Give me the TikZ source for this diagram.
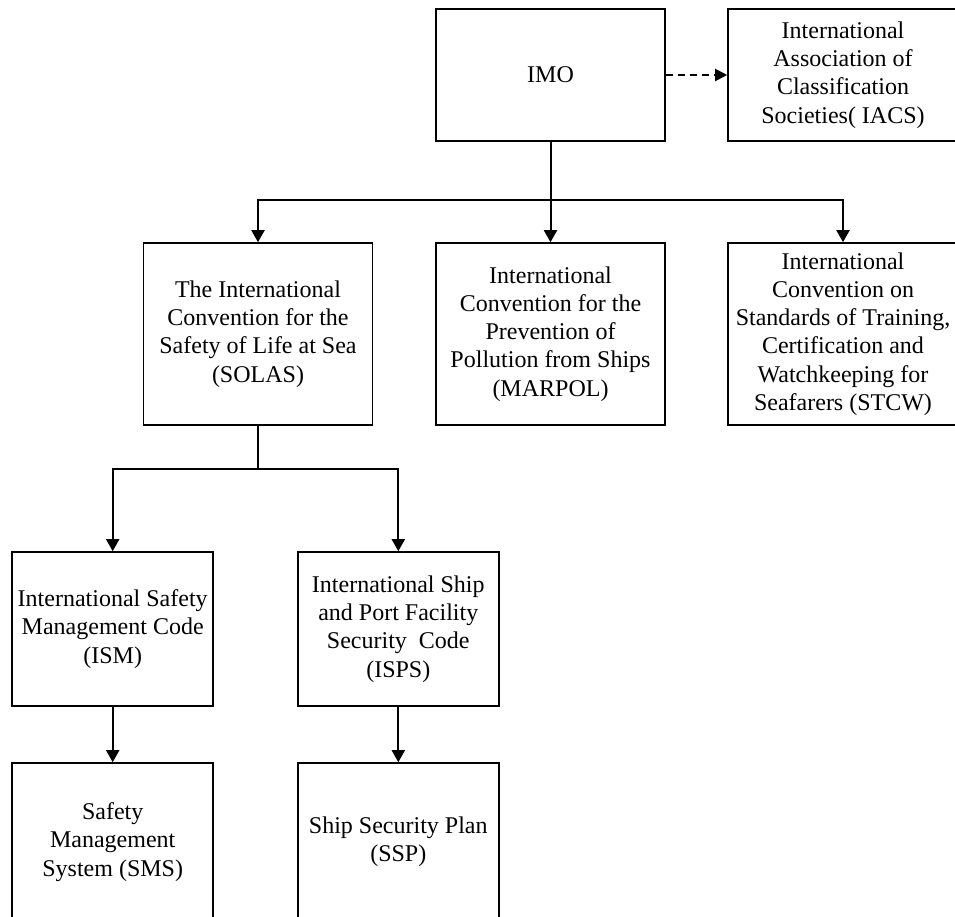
\documentclass[tikz,border=0pt]{standalone}
\usepackage{fontspec}
\setmainfont{Liberation Serif}
\usetikzlibrary{arrows.meta}
\begin{document}
\begin{tikzpicture}[x=1pt,y=-1pt,
  box/.style={draw, line width=1.6pt, rectangle, inner sep=0pt, align=center, font=\fontsize{24}{28.2}\selectfont},
  conn/.style={line width=2pt},
  arr/.style={line width=2pt, -{Triangle[width=13pt,length=12pt]}},
  darr/.style={line width=2pt, dash pattern=on 7pt off 5pt, -{Triangle[width=12pt,length=12pt]}}]
\useasboundingbox (0,0) rectangle (955,917);
\clip (0,0) rectangle (955,917);
% top row
\node[box, minimum width=229pt, minimum height=132pt] (imo) at (550.5,75) {IMO};
\node[box, minimum width=230pt, minimum height=132pt] (iacs) at (843,75) {International\\Association of\\Classification\\Societies( IACS)};
% second row
\node[box, minimum width=229pt, minimum height=182pt] (solas) at (258,334) {The International\\Convention for the\\Safety of Life at Sea\\(SOLAS)};
\node[box, minimum width=229pt, minimum height=182pt] (marpol) at (550.5,334) {International\\Convention for the\\Prevention of\\Pollution from Ships\\(MARPOL)};
\node[box, minimum width=230pt, minimum height=182pt] (stcw) at (843,334) {International\\Convention on\\Standards of Training,\\Certification and\\Watchkeeping for\\Seafarers (STCW)};
% third row
\node[box, minimum width=201pt, minimum height=154pt] (ism) at (112.7,629) {International Safety\\Management Code\\(ISM)};
\node[box, minimum width=201pt, minimum height=154pt] (isps) at (398.3,629) {International Ship\\and Port Facility\\Security\ \ Code\\(ISPS)};
% fourth row
\node[box, minimum width=201pt, minimum height=158pt] (sms) at (112.7,842) {Safety\\Management\\System (SMS)};
\node[box, minimum width=201pt, minimum height=158pt] (ssp) at (398.3,842) {Ship Security Plan\\(SSP)};
% connectors
\draw[darr] (imo.east) -- (iacs.west);
\coordinate (j1) at (imo.south |- 0,200);
\draw[conn] (imo.south) -- (j1);
\draw[arr] (j1) -| (solas.north);
\draw[arr] (j1) -- (marpol.north);
\draw[arr] (j1) -| (stcw.north);
\coordinate (j2) at (solas.south |- 0,469);
\draw[conn] (solas.south) -- (j2);
\draw[arr] (j2) -| (ism.north);
\draw[arr] (j2) -| (isps.north);
\draw[arr] (ism.south) -- (sms.north);
\draw[arr] (isps.south) -- (ssp.north);
\end{tikzpicture}
\end{document}
